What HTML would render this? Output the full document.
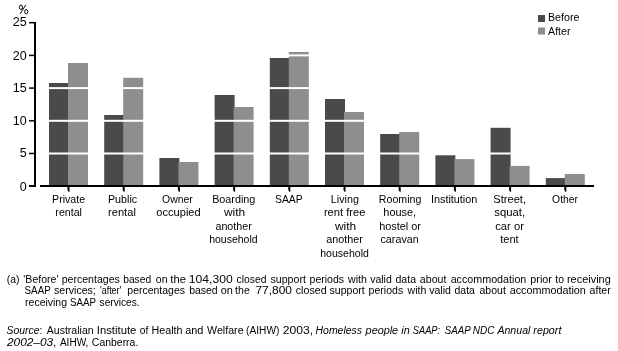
<!DOCTYPE html><html><head><meta charset="utf-8"><style>html,body{margin:0;padding:0;background:#fff;}svg{display:block;will-change:transform;}text{font-family:"Liberation Sans",sans-serif;fill:#000;}</style></head><body>
<svg width="618" height="351" viewBox="0 0 618 351">
<rect x="0" y="0" width="618" height="351" fill="#fff"/>
<rect x="49.00" y="83" width="20.0" height="102.00" fill="#4a4a4a"/>
<rect x="68.00" y="63" width="20.0" height="122.00" fill="#8e8e8e"/>
<rect x="104.20" y="115" width="20.0" height="70.00" fill="#4a4a4a"/>
<rect x="123.20" y="77.8" width="20.0" height="107.20" fill="#8e8e8e"/>
<rect x="159.40" y="158" width="20.0" height="27.00" fill="#4a4a4a"/>
<rect x="178.40" y="162" width="20.0" height="23.00" fill="#8e8e8e"/>
<rect x="214.60" y="95" width="20.0" height="90.00" fill="#4a4a4a"/>
<rect x="233.60" y="107" width="20.0" height="78.00" fill="#8e8e8e"/>
<rect x="269.80" y="58" width="20.0" height="127.00" fill="#4a4a4a"/>
<rect x="288.80" y="52" width="20.0" height="133.00" fill="#8e8e8e"/>
<rect x="325.00" y="99" width="20.0" height="86.00" fill="#4a4a4a"/>
<rect x="344.00" y="112" width="20.0" height="73.00" fill="#8e8e8e"/>
<rect x="380.20" y="134" width="20.0" height="51.00" fill="#4a4a4a"/>
<rect x="399.20" y="132" width="20.0" height="53.00" fill="#8e8e8e"/>
<rect x="435.40" y="155.3" width="20.0" height="29.70" fill="#4a4a4a"/>
<rect x="454.40" y="159.1" width="20.0" height="25.90" fill="#8e8e8e"/>
<rect x="490.60" y="127.8" width="20.0" height="57.20" fill="#4a4a4a"/>
<rect x="509.60" y="165.9" width="20.0" height="19.10" fill="#8e8e8e"/>
<rect x="545.80" y="178.1" width="20.0" height="6.90" fill="#4a4a4a"/>
<rect x="564.80" y="174" width="20.0" height="11.00" fill="#8e8e8e"/>
<rect x="40" y="152.50" width="554" height="2" fill="#fff"/>
<rect x="40" y="119.80" width="554" height="2" fill="#fff"/>
<rect x="40" y="87.10" width="554" height="2" fill="#fff"/>
<rect x="40" y="54.40" width="554" height="2" fill="#fff"/>
<rect x="34" y="22" width="2" height="165" fill="#000"/>
<rect x="29" y="152.75" width="5.5" height="1.5" fill="#000"/>
<rect x="29" y="120.05" width="5.5" height="1.5" fill="#000"/>
<rect x="29" y="87.35" width="5.5" height="1.5" fill="#000"/>
<rect x="29" y="54.65" width="5.5" height="1.5" fill="#000"/>
<rect x="29" y="21.95" width="5.5" height="1.5" fill="#000"/>
<rect x="29" y="185" width="5" height="2" fill="#000"/>
<rect x="40" y="185" width="554" height="2" fill="#000"/>
<path d="M67.50 187 H69.50 V191.7 H68.40 L67.90 190.6 H67.50 Z" fill="#000"/>
<path d="M122.70 187 H124.70 V191.7 H123.60 L123.10 190.6 H122.70 Z" fill="#000"/>
<path d="M177.90 187 H179.90 V191.7 H178.80 L178.30 190.6 H177.90 Z" fill="#000"/>
<path d="M233.10 187 H235.10 V191.7 H234.00 L233.50 190.6 H233.10 Z" fill="#000"/>
<path d="M288.30 187 H290.30 V191.7 H289.20 L288.70 190.6 H288.30 Z" fill="#000"/>
<path d="M343.50 187 H345.50 V191.7 H344.40 L343.90 190.6 H343.50 Z" fill="#000"/>
<path d="M398.70 187 H400.70 V191.7 H399.60 L399.10 190.6 H398.70 Z" fill="#000"/>
<path d="M453.90 187 H455.90 V191.7 H454.80 L454.30 190.6 H453.90 Z" fill="#000"/>
<path d="M509.10 187 H511.10 V191.7 H510.00 L509.50 190.6 H509.10 Z" fill="#000"/>
<path d="M564.30 187 H566.30 V191.7 H565.20 L564.70 190.6 H564.30 Z" fill="#000"/>
<g font-size="12.5" text-anchor="end">
<text x="26.6" y="190.50">0</text>
<text x="26.6" y="157.20">5</text>
<text x="26.6" y="125.10">10</text>
<text x="26.6" y="92.40">15</text>
<text x="26.6" y="59.70">20</text>
<text x="26.6" y="26.20">25</text>
</g>
<g fill="none" stroke="#000" stroke-width="0.95"><ellipse cx="21.0" cy="7.3" rx="1.6" ry="2.25"/><ellipse cx="26.2" cy="11.7" rx="1.6" ry="2.25"/><path d="M25.7 5.0 L20.0 14.0"/></g>
<g font-size="11.4">
<text x="52.05" y="202.90" textLength="33.10" lengthAdjust="spacingAndGlyphs">Private</text>
<text x="55.36" y="216.35" textLength="26.60" lengthAdjust="spacingAndGlyphs">rental</text>
<text x="107.94" y="202.90" textLength="29.32" lengthAdjust="spacingAndGlyphs">Public</text>
<text x="108.02" y="216.35" textLength="27.86" lengthAdjust="spacingAndGlyphs">rental</text>
<text x="162.08" y="202.90" textLength="30.78" lengthAdjust="spacingAndGlyphs">Owner</text>
<text x="156.36" y="216.35" textLength="44.34" lengthAdjust="spacingAndGlyphs">occupied</text>
<text x="212.14" y="202.90" textLength="43.24" lengthAdjust="spacingAndGlyphs">Boarding</text>
<text x="223.90" y="216.35" textLength="21.21" lengthAdjust="spacingAndGlyphs">with</text>
<text x="215.47" y="229.80" textLength="36.25" lengthAdjust="spacingAndGlyphs">another</text>
<text x="209.17" y="243.25" textLength="48.41" lengthAdjust="spacingAndGlyphs">household</text>
<text x="274.98" y="202.90" textLength="27.72" lengthAdjust="spacingAndGlyphs">SAAP</text>
<text x="330.84" y="202.90" textLength="28.03" lengthAdjust="spacingAndGlyphs">Living</text>
<text x="323.92" y="216.35" textLength="41.57" lengthAdjust="spacingAndGlyphs">rent free</text>
<text x="334.90" y="229.80" textLength="21.21" lengthAdjust="spacingAndGlyphs">with</text>
<text x="326.37" y="243.25" textLength="36.55" lengthAdjust="spacingAndGlyphs">another</text>
<text x="320.26" y="256.70" textLength="48.62" lengthAdjust="spacingAndGlyphs">household</text>
<text x="378.85" y="202.90" textLength="42.51" lengthAdjust="spacingAndGlyphs">Rooming</text>
<text x="383.34" y="216.35" textLength="32.77" lengthAdjust="spacingAndGlyphs">house,</text>
<text x="379.14" y="229.80" textLength="41.73" lengthAdjust="spacingAndGlyphs">hostel or</text>
<text x="380.47" y="243.25" textLength="38.36" lengthAdjust="spacingAndGlyphs">caravan</text>
<text x="430.92" y="202.90" textLength="46.44" lengthAdjust="spacingAndGlyphs">Institution</text>
<text x="493.24" y="202.90" textLength="32.81" lengthAdjust="spacingAndGlyphs">Street,</text>
<text x="494.26" y="216.35" textLength="30.89" lengthAdjust="spacingAndGlyphs">squat,</text>
<text x="495.25" y="229.80" textLength="28.63" lengthAdjust="spacingAndGlyphs">car or</text>
<text x="500.29" y="243.25" textLength="18.40" lengthAdjust="spacingAndGlyphs">tent</text>
<text x="552.08" y="202.90" textLength="25.93" lengthAdjust="spacingAndGlyphs">Other</text>
</g>
<rect x="538" y="15" width="7" height="7" fill="#4a4a4a"/>
<rect x="538" y="27.5" width="7" height="7" fill="#8e8e8e"/>
<text x="547.95" y="20.9" font-size="10.4" textLength="31.45" lengthAdjust="spacingAndGlyphs">Before</text>
<text x="548.1" y="34.6" font-size="10.4" textLength="22.42" lengthAdjust="spacingAndGlyphs">After</text>
<g font-size="10">
<text x="6.78" y="282.8" textLength="12.66" lengthAdjust="spacingAndGlyphs">(a)</text>
<text x="23.37" y="282.8" textLength="35.13" lengthAdjust="spacingAndGlyphs">'Before'</text>
<text x="61.67" y="282.8" textLength="58.18" lengthAdjust="spacingAndGlyphs">percentages</text>
<text x="123.18" y="282.8" textLength="27.98" lengthAdjust="spacingAndGlyphs">based</text>
<text x="155.88" y="282.8" textLength="11.76" lengthAdjust="spacingAndGlyphs">on</text>
<text x="170.29" y="282.8" textLength="15.68" lengthAdjust="spacingAndGlyphs">the</text>
<text x="188.83" y="282.8" textLength="43.89" lengthAdjust="spacingAndGlyphs">104,300</text>
<text x="236.59" y="282.8" textLength="29.84" lengthAdjust="spacingAndGlyphs">closed</text>
<text x="270.58" y="282.8" textLength="35.26" lengthAdjust="spacingAndGlyphs">support</text>
<text x="309.57" y="282.8" textLength="34.55" lengthAdjust="spacingAndGlyphs">periods</text>
<text x="348.00" y="282.8" textLength="18.80" lengthAdjust="spacingAndGlyphs">with</text>
<text x="370.20" y="282.8" textLength="21.60" lengthAdjust="spacingAndGlyphs">valid</text>
<text x="395.48" y="282.8" textLength="20.58" lengthAdjust="spacingAndGlyphs">data</text>
<text x="419.88" y="282.8" textLength="26.45" lengthAdjust="spacingAndGlyphs">about</text>
<text x="450.67" y="282.8" textLength="75.66" lengthAdjust="spacingAndGlyphs">accommodation</text>
<text x="530.35" y="282.8" textLength="21.56" lengthAdjust="spacingAndGlyphs">prior</text>
<text x="555.39" y="282.8" textLength="8.76" lengthAdjust="spacingAndGlyphs">to</text>
<text x="566.93" y="282.8" textLength="43.84" lengthAdjust="spacingAndGlyphs">receiving</text>
<text x="24.61" y="294.2" textLength="26.06" lengthAdjust="spacingAndGlyphs">SAAP</text>
<text x="54.08" y="294.2" textLength="41.72" lengthAdjust="spacingAndGlyphs">services;</text>
<text x="100.06" y="294.2" textLength="21.11" lengthAdjust="spacingAndGlyphs">'after'</text>
<text x="127.37" y="294.2" textLength="57.58" lengthAdjust="spacingAndGlyphs">percentages</text>
<text x="189.17" y="294.2" textLength="28.50" lengthAdjust="spacingAndGlyphs">based</text>
<text x="220.66" y="294.2" textLength="12.22" lengthAdjust="spacingAndGlyphs">on</text>
<text x="235.09" y="294.2" textLength="14.68" lengthAdjust="spacingAndGlyphs">the</text>
<text x="255.40" y="294.2" textLength="36.56" lengthAdjust="spacingAndGlyphs">77,800</text>
<text x="295.67" y="294.2" textLength="31.09" lengthAdjust="spacingAndGlyphs">closed</text>
<text x="329.58" y="294.2" textLength="35.23" lengthAdjust="spacingAndGlyphs">support</text>
<text x="368.57" y="294.2" textLength="34.65" lengthAdjust="spacingAndGlyphs">periods</text>
<text x="407.60" y="294.2" textLength="18.79" lengthAdjust="spacingAndGlyphs">with</text>
<text x="429.20" y="294.2" textLength="21.73" lengthAdjust="spacingAndGlyphs">valid</text>
<text x="454.58" y="294.2" textLength="20.28" lengthAdjust="spacingAndGlyphs">data</text>
<text x="479.40" y="294.2" textLength="26.43" lengthAdjust="spacingAndGlyphs">about</text>
<text x="509.67" y="294.2" textLength="76.17" lengthAdjust="spacingAndGlyphs">accommodation</text>
<text x="589.58" y="294.2" textLength="21.14" lengthAdjust="spacingAndGlyphs">after</text>
<text x="25.07" y="305.6" textLength="41.98" lengthAdjust="spacingAndGlyphs">receiving</text>
<text x="70.01" y="305.6" textLength="25.95" lengthAdjust="spacingAndGlyphs">SAAP</text>
<text x="99.60" y="305.6" textLength="39.97" lengthAdjust="spacingAndGlyphs">services.</text>
<text x="6.59" y="333.7" textLength="35.89" lengthAdjust="spacingAndGlyphs"><tspan font-style="italic">Source</tspan>:</text>
<text x="46.80" y="333.7" textLength="46.80" lengthAdjust="spacingAndGlyphs">Australian</text>
<text x="96.78" y="333.7" textLength="39.59" lengthAdjust="spacingAndGlyphs">Institute</text>
<text x="139.89" y="333.7" textLength="8.55" lengthAdjust="spacingAndGlyphs">of</text>
<text x="151.54" y="333.7" textLength="31.01" lengthAdjust="spacingAndGlyphs">Health</text>
<text x="185.26" y="333.7" textLength="18.18" lengthAdjust="spacingAndGlyphs">and</text>
<text x="207.10" y="333.7" textLength="36.50" lengthAdjust="spacingAndGlyphs">Welfare</text>
<text x="246.09" y="333.7" textLength="33.29" lengthAdjust="spacingAndGlyphs">(AIHW)</text>
<text x="282.79" y="333.7" textLength="30.32" lengthAdjust="spacingAndGlyphs">2003,</text>
<text x="315.59" y="333.7" textLength="46.38" lengthAdjust="spacingAndGlyphs"><tspan font-style="italic">Homeless</tspan></text>
<text x="365.62" y="333.7" textLength="32.54" lengthAdjust="spacingAndGlyphs"><tspan font-style="italic">people</tspan></text>
<text x="401.28" y="333.7" textLength="8.44" lengthAdjust="spacingAndGlyphs"><tspan font-style="italic">in</tspan></text>
<text x="412.82" y="333.7" textLength="27.31" lengthAdjust="spacingAndGlyphs"><tspan font-style="italic">SAAP:</tspan></text>
<text x="444.81" y="333.7" textLength="25.97" lengthAdjust="spacingAndGlyphs"><tspan font-style="italic">SAAP</tspan></text>
<text x="472.80" y="333.7" textLength="21.67" lengthAdjust="spacingAndGlyphs"><tspan font-style="italic">NDC</tspan></text>
<text x="497.43" y="333.7" textLength="32.97" lengthAdjust="spacingAndGlyphs"><tspan font-style="italic">Annual</tspan></text>
<text x="533.39" y="333.7" textLength="28.01" lengthAdjust="spacingAndGlyphs"><tspan font-style="italic">report</tspan></text>
<text x="7.02" y="345.7" textLength="49.41" lengthAdjust="spacingAndGlyphs"><tspan font-style="italic">2002&#8211;03</tspan>,</text>
<text x="59.90" y="345.7" textLength="28.54" lengthAdjust="spacingAndGlyphs">AIHW,</text>
<text x="91.88" y="345.7" textLength="46.42" lengthAdjust="spacingAndGlyphs">Canberra.</text>
</g>
</svg></body></html>
